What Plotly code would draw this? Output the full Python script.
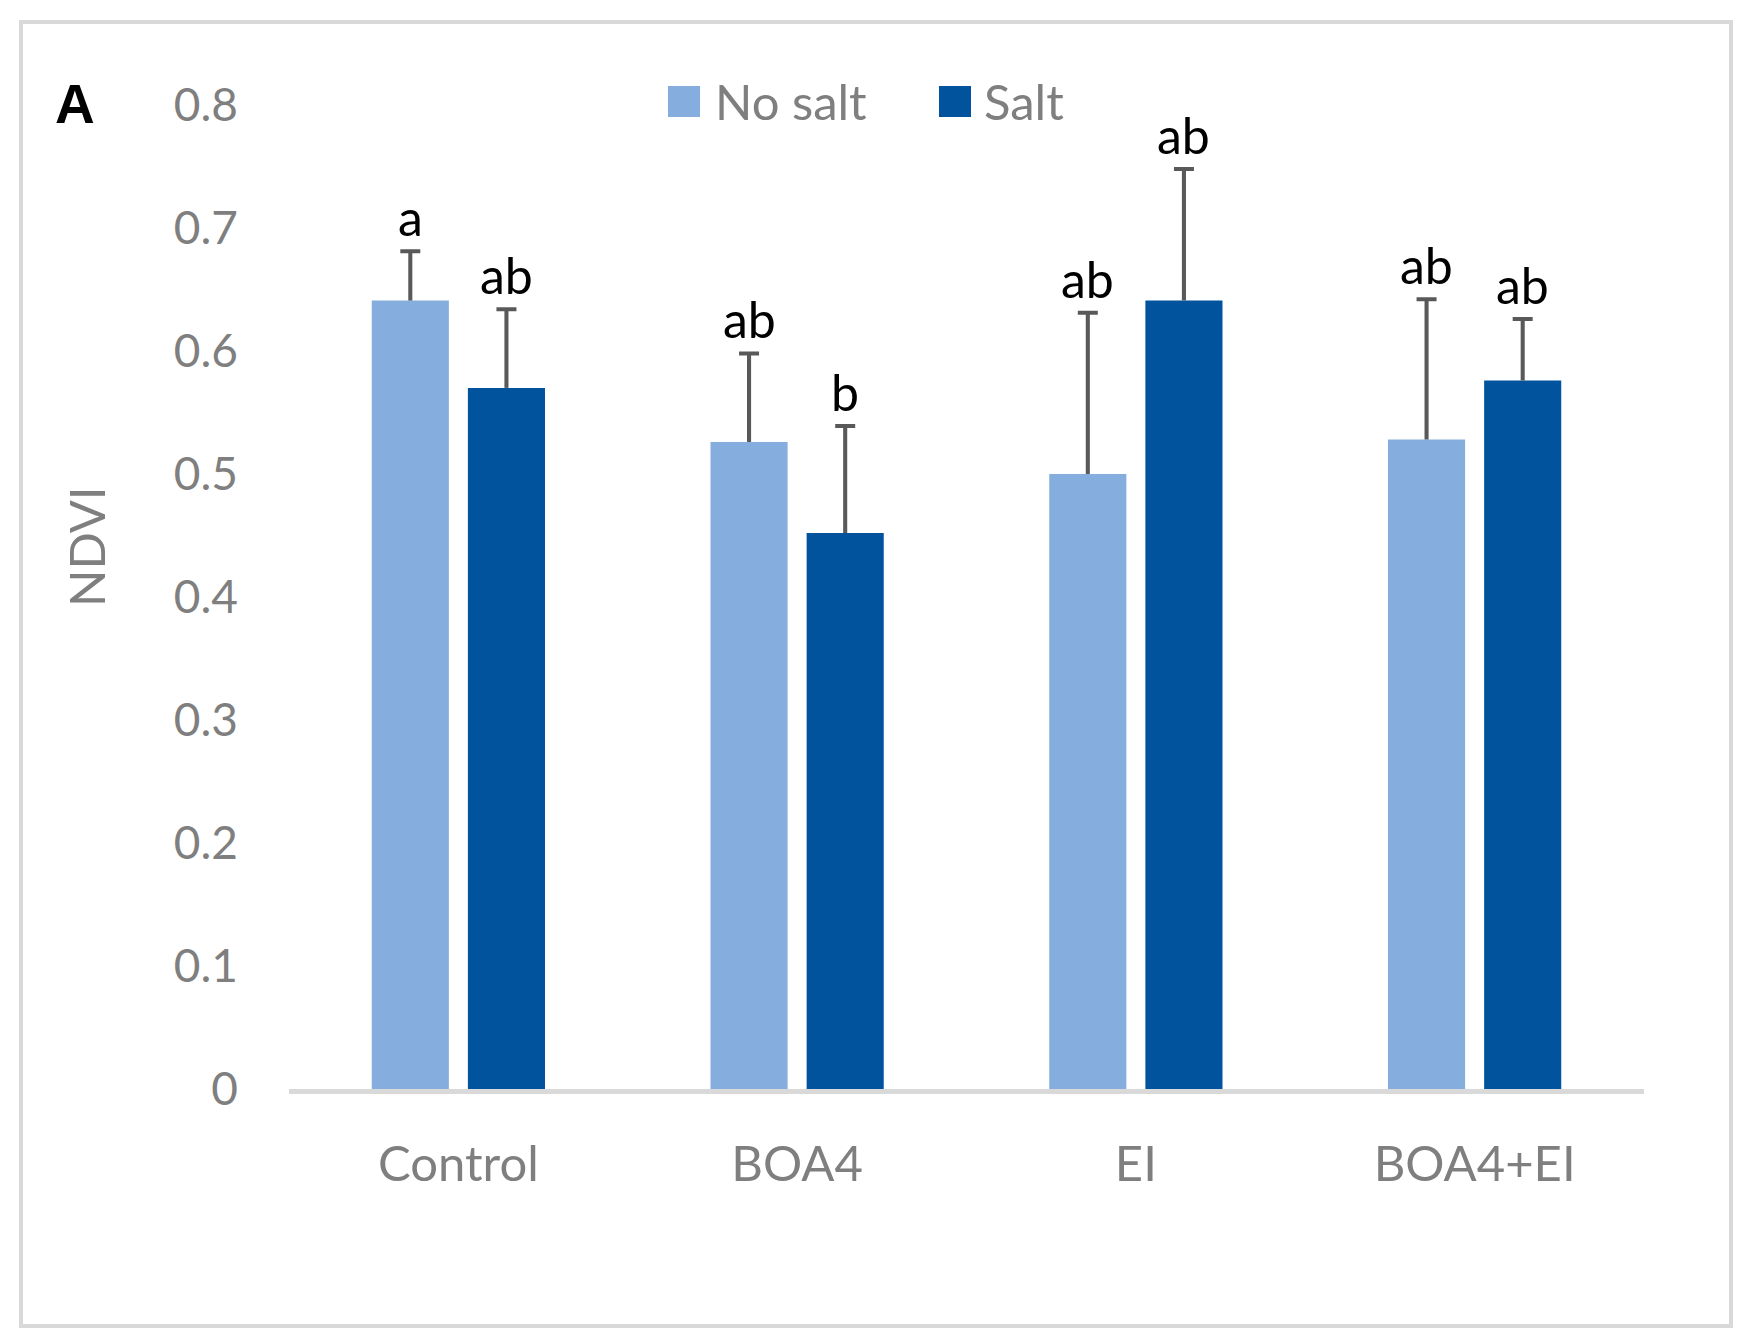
import plotly.graph_objects as go

# ---- data ----
categories = ["Control", "BOA4", "EI", "BOA4+EI"]
no_salt = [0.641, 0.526, 0.500, 0.528]
salt = [0.570, 0.452, 0.641, 0.576]
err_no_salt = [0.040, 0.072, 0.131, 0.114]
err_salt = [0.064, 0.087, 0.107, 0.050]
letters_no_salt = ["a", "ab", "ab", "ab"]
letters_salt = ["ab", "b", "ab", "ab"]
y_ticks = [0, 0.1, 0.2, 0.3, 0.4, 0.5, 0.6, 0.7, 0.8]
y_ticktext = ["0", "0.1", "0.2", "0.3", "0.4", "0.5", "0.6", "0.7", "0.8"]
series_names = ["No salt", "Salt"]

# ---- style ----
OFF = 8  # page body margin of the browser
W, H = 1746 - OFF, 1342 - OFF
L, R, T, B = 289 - OFF, 102, 105 - OFF, 253
C_LIGHT = "#85ADDD"
C_DARK = "#01539D"
C_ERR = "#595959"
C_TEXT = "#7F7F7F"
C_BORDER = "#D9D9D9"
FONT = "Lato"


def px(x):
    # x given in screen pixels of the reference
    return (x - OFF - L) / (W - L - R)


def py(y):
    return (H - B - (y - OFF)) / (H - T - B)


fig = go.Figure()

series = [
    (series_names[0], no_salt, err_no_salt, C_LIGHT, "g1"),
    (series_names[1], salt, err_salt, C_DARK, "g2"),
]

for name, vals, errs, col, grp in series:
    fig.add_trace(go.Bar(
        x=categories, y=vals, name=name, marker=dict(color=col, line=dict(width=0)),
        offsetgroup=grp, showlegend=False,
    ))
    # error bar stems (plus only) drawn from the bar top upward
    fig.add_trace(go.Bar(
        x=categories, y=errs, base=vals, width=0.012, offsetgroup=grp,
        marker=dict(color=C_ERR, line=dict(width=0)), showlegend=False,
        error_y=dict(type="data", array=[0] * len(errs), arrayminus=[0] * len(errs),
                     color=C_ERR, thickness=4, width=10),
        hoverinfo="skip",
    ))

annotations = []
for vals, errs, letters, shift in [(no_salt, err_no_salt, letters_no_salt, -48),
                                   (salt, err_salt, letters_salt, 48)]:
    for c, v, e, lt in zip(categories, vals, errs, letters):
        annotations.append(dict(
            x=c, y=v + e, xref="x", yref="y", text=lt, showarrow=False,
            xshift=shift, yanchor="bottom", yshift=2,
            font=dict(family=FONT, size=50, color="black"),
        ))

# y-axis title
annotations.append(dict(x=px(86), y=py(547), xref="paper", yref="paper", text="NDVI",
                        textangle=-90, showarrow=False, xanchor="center", yanchor="middle",
                        font=dict(family=FONT, size=49, color=C_TEXT)))
# panel letter
annotations.append(dict(x=px(75), y=py(104), xref="paper", yref="paper", text="<b>A</b>",
                        showarrow=False, xanchor="center", yanchor="middle",
                        font=dict(family="Liberation Sans", size=55, color="black")))
# custom legend text
annotations.append(dict(x=px(713), y=py(101), xref="paper", yref="paper", text=series_names[0],
                        showarrow=False, xanchor="left", yanchor="middle",
                        font=dict(family=FONT, size=49, color=C_TEXT)))
annotations.append(dict(x=px(982), y=py(101), xref="paper", yref="paper", text=series_names[1],
                        showarrow=False, xanchor="left", yanchor="middle",
                        font=dict(family=FONT, size=49, color=C_TEXT)))

shapes = [
    dict(type="rect", xref="paper", yref="paper", x0=px(21), x1=px(1731), y0=py(22), y1=py(1326),
         line=dict(color=C_BORDER, width=4), fillcolor="rgba(0,0,0,0)", layer="below"),
    dict(type="rect", xref="paper", yref="paper", x0=px(668), x1=px(700), y0=py(86), y1=py(117),
         line=dict(width=0), fillcolor=C_LIGHT),
    dict(type="rect", xref="paper", yref="paper", x0=px(939), x1=px(971), y0=py(86), y1=py(117),
         line=dict(width=0), fillcolor=C_DARK),
]

fig.update_layout(
    width=W, height=H,
    margin=dict(l=L, r=R, t=T, b=B, pad=0),
    paper_bgcolor="white", plot_bgcolor="white",
    barmode="group", bargap=0.4324, bargroupgap=0.198,
    showlegend=False,
    font=dict(family=FONT, color=C_TEXT),
    annotations=annotations, shapes=shapes,
    xaxis=dict(showline=True, linecolor=C_BORDER, linewidth=5, showgrid=False, ticks="",
               tickfont=dict(family=FONT, size=49, color=C_TEXT), ticklabelstandoff=28,
               zeroline=False, fixedrange=True),
    yaxis=dict(range=[0, 0.8], tickvals=y_ticks, ticktext=y_ticktext, showgrid=False,
               showline=False, zeroline=False, ticks="",
               tickfont=dict(family=FONT, size=46, color=C_TEXT), ticklabelstandoff=50),
)

fig.write_html("out.html")
